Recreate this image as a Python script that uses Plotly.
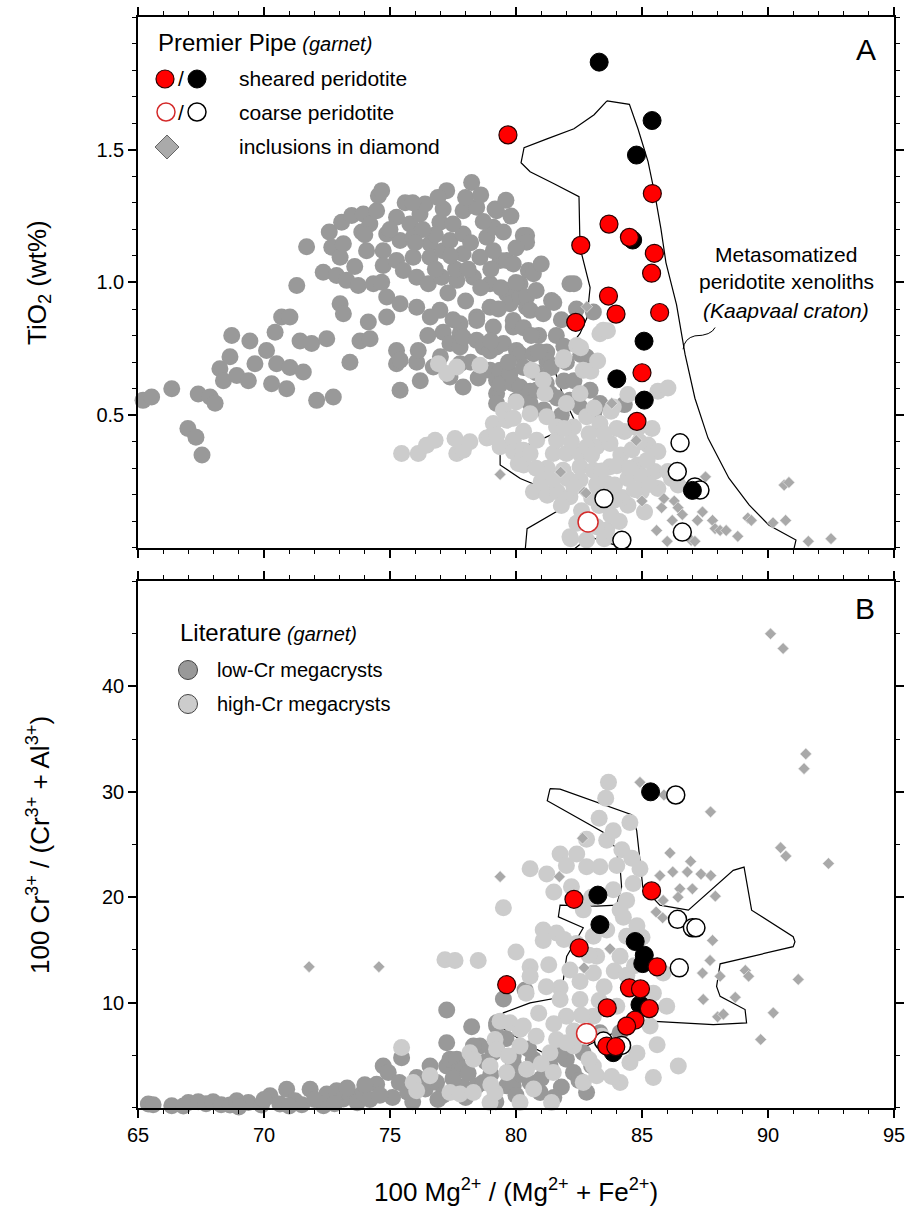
import plotly.graph_objects as go

FONT = "Liberation Sans, Arial, sans-serif"

# ---------------- Panel A: TiO2 vs Mg# ----------------
kaap_ti_x = [83.61, 84.50, 84.84, 85.24, 85.52, 85.75, 85.95, 86.37, 86.71, 87.10,
             87.62, 88.45, 89.25, 90.04, 91.11, 90.99, 84.92, 82.97, 82.57, 82.10,
             80.37, 80.44, 82.04, 81.77, 80.17, 79.37, 79.37, 80.70, 82.37, 81.90,
             81.50, 82.54, 82.82, 82.94, 82.54, 82.50, 81.51, 80.56, 80.20, 80.32,
             81.23, 82.30, 83.10, 83.61]
kaap_ti_y = [1.684, 1.671, 1.579, 1.455, 1.327, 1.203, 1.075, 0.917, 0.729, 0.564,
             0.414, 0.263, 0.162, 0.086, 0.030, -0.02, -0.02, 0.041, 0.016, -0.02,
             -0.003, 0.073, 0.161, 0.199, 0.262, 0.313, 0.363, 0.395, 0.471, 0.565,
             0.679, 0.808, 0.868, 0.981, 1.132, 1.323, 1.372, 1.417, 1.451, 1.508,
             1.541, 1.579, 1.632, 1.684]

lowcr_ti = [
    (65.2, 0.556), (65.54, 0.569), (66.34, 0.60), (66.98, 0.45), (67.3, 0.417), (67.54, 0.35),
    (67.39, 0.58), (67.86, 0.569), (68.06, 0.545), (68.25, 0.675), (68.39, 0.63), (68.65, 0.72),
    (68.72, 0.80), (68.92, 0.65), (69.38, 0.63), (69.44, 0.78), (69.64, 0.694), (70.1, 0.744),
    (70.3, 0.619), (70.44, 0.813), (70.5, 0.694), (70.7, 0.87), (70.9, 0.60), (71.03, 0.87),
    (71.03, 0.68), (71.3, 0.989), (71.43, 0.78), (71.56, 0.663), (71.69, 1.135), (71.89, 0.77),
    (72.09, 0.556), (72.35, 1.039), (72.49, 0.788), (72.59, 1.19), (72.69, 1.133), (72.75, 0.569),
    (72.88, 1.026), (73.02, 1.095), (73.02, 0.92), (73.08, 1.227), (73.15, 1.146), (73.15, 0.882),
    (73.28, 1.008), (73.41, 0.70), (73.48, 1.252), (73.74, 0.989), (73.81, 0.78), (73.88, 1.19),
    (73.94, 1.258), (74.07, 1.12), (74.14, 0.851), (74.2, 1.22), (74.21, 0.788), (74.34, 0.995),
    (74.47, 1.27), (74.54, 1.327), (74.67, 1.346), (74.67, 1.001), (74.73, 1.12), (74.73, 1.064),
    (74.87, 1.183), (74.87, 0.945), (74.87, 0.87), (75.26, 1.246), (75.26, 1.083), (75.26, 0.744),
    (75.26, 0.694), (75.4, 1.158), (75.4, 0.92), (75.4, 0.594), (75.4, 0.707), (75.53, 1.045),
    (75.79, 1.22), (75.92, 1.17), (75.92, 1.095), (76.06, 1.02), (76.06, 0.907), (76.06, 0.70),
    (76.12, 0.744), (76.19, 1.258), (76.39, 1.296), (76.52, 0.995), (76.59, 1.146), (76.59, 1.095),
    (76.72, 0.682), (76.98, 1.227), (76.98, 0.895), (77.05, 1.02), (77.11, 1.277), (77.11, 1.12),
    (77.11, 0.813), (77.25, 1.346), (77.38, 1.158), (77.38, 0.77), (77.38, 0.644), (77.65, 1.008),
    (77.78, 0.845), (77.78, 0.807), (77.78, 0.757), (77.78, 0.694), (77.9, 1.27), (77.9, 1.183),
    (77.9, 1.108), (77.9, 0.794), (77.9, 0.606), (78.24, 1.377), (78.31, 1.02), (78.44, 1.283),
    (78.44, 0.87), (78.44, 0.857), (78.44, 0.782), (78.57, 1.095), (78.7, 0.757), (78.84, 1.17),
    (78.97, 0.995), (78.97, 0.907), (78.97, 0.669), (78.97, 0.742), (79.1, 1.208), (79.1, 0.832),
    (79.17, 1.277), (79.23, 1.27), (79.23, 0.757), (79.23, 0.632), (79.23, 0.582), (79.23, 0.544),
    (79.37, 1.083), (79.37, 0.669), (79.37, 0.617), (79.5, 0.77), (79.63, 1.083), (79.63, 0.97),
    (79.63, 0.957), (79.76, 0.92), (79.76, 0.657), (79.89, 1.07), (79.89, 0.832), (79.89, 0.857),
    (79.89, 0.619), (80.02, 0.744), (80.02, 0.556), (80.16, 0.945), (80.16, 0.995), (80.16, 0.606),
    (80.17, 0.729), (80.29, 1.177), (80.42, 1.177), (80.42, 1.152), (80.42, 0.907), (80.42, 0.945),
    (80.42, 0.569), (80.49, 1.045), (80.56, 0.895), (80.56, 0.59), (80.56, 0.544), (80.69, 1.033),
    (80.69, 0.732), (80.82, 0.594), (81.08, 0.882), (81.22, 0.738), (81.23, 0.704), (81.35, 0.582),
    (81.41, 0.932), (81.5, 0.925), (81.63, 0.565), (81.9, 0.629), (82.14, 0.995), (82.14, 0.556),
    (82.3, 0.995), (82.54, 0.531), (82.57, 0.729), (82.8, 0.719), (82.94, 0.594), (83.07, 0.889),
    (83.07, 0.506), (83.1, 0.515), (83.33, 0.544), (84.3, 0.54),
    (76.8, 1.18), (77.5, 1.22), (78.0, 1.32), (78.7, 1.23), (79.5, 1.19), (79.8, 1.25),
    (80.0, 1.13), (79.0, 1.05), (78.2, 1.15), (77.6, 1.05), (76.3, 1.2), (75.6, 1.3),
    (74.0, 1.18), (73.6, 1.06), (80.8, 0.97), (81.0, 1.07), (80.3, 0.83), (80.9, 0.80),
    (81.6, 0.80), (81.4, 0.68), (82.0, 0.70), (80.8, 0.66), (81.8, 0.86), (82.4, 0.90),
    (81.1, 0.52), (81.8, 0.50), (82.3, 0.63), (78.0, 0.93), (77.3, 0.96), (76.6, 0.87),
    (79.3, 0.90), (80.3, 0.68), (80.9, 0.74),
    (76.0, 1.15), (76.8, 1.05), (77.4, 1.10), (78.1, 1.05), (78.6, 0.98), (79.4, 0.98),
    (79.0, 0.78), (78.2, 0.70), (77.5, 0.86), (76.5, 0.80), (78.5, 0.64), (79.7, 0.70),
    (80.6, 0.80), (81.2, 0.62), (81.9, 0.76), (80.0, 1.0), (79.1, 1.12), (77.0, 0.72),
    (76.2, 0.63), (75.0, 1.2), (75.9, 1.3), (76.9, 1.32), (78.6, 1.33), (79.6, 1.31),
]

highcr_ti = [
    (75.46, 0.356), (76.12, 0.356), (76.45, 0.387), (76.79, 0.406), (76.92, 0.694), (77.25, 0.657),
    (77.58, 0.412), (77.65, 0.682), (77.65, 0.356), (77.91, 0.368), (78.17, 0.40), (78.57, 0.688),
    (78.84, 0.414), (78.97, 0.418), (79.1, 0.469), (79.24, 0.426), (79.37, 0.381), (79.5, 0.519),
    (79.63, 0.481), (79.89, 0.406), (79.9, 0.489), (79.9, 0.363), (80.09, 0.318), (80.29, 0.368),
    (80.3, 0.313), (80.56, 0.356), (80.56, 0.506), (80.62, 0.669), (80.69, 0.212), (80.82, 0.406),
    (81.08, 0.632), (81.15, 0.582), (81.22, 0.494), (81.22, 0.206), (81.24, 0.30), (81.24, 0.199),
    (81.48, 0.356), (81.61, 0.456), (81.61, 0.406), (81.64, 0.212), (81.87, 0.707), (81.87, 0.293),
    (81.9, 0.717), (82.0, 0.544), (82.0, 0.356), (82.04, 0.262), (82.14, 0.193), (82.14, 0.042),
    (82.17, 0.035), (82.28, 0.456), (82.41, 0.763), (82.41, 0.093), (82.54, 0.582), (82.54, 0.356),
    (82.54, 0.306), (82.54, 0.256), (82.57, 0.754), (82.67, 0.669), (82.8, 0.494), (82.8, 0.03),
    (82.97, 0.666), (83.07, 0.293), (83.1, 0.527), (83.2, 0.381), (83.24, 0.704), (83.33, 0.807),
    (83.33, 0.469), (83.46, 0.82), (83.5, 0.035), (83.6, 0.243), (83.6, 0.068), (83.63, 0.818),
    (83.73, 0.394), (83.73, 0.306), (83.77, 0.515), (83.77, 0.123), (83.86, 0.531), (83.91, 0.237),
    (84.16, 0.35), (84.3, 0.439), (84.44, 0.578), (84.44, 0.262), (84.44, 0.161), (84.83, 0.451),
    (84.83, 0.313), (84.97, 0.212), (85.1, 0.136), (85.24, 0.388), (85.5, 0.288), (85.63, 0.59),
    (85.63, 0.363), (85.63, 0.224), (86.03, 0.603), (86.03, 0.288), (86.17, 0.262), (86.43, 0.237),
    (82.9, 0.43), (83.4, 0.29), (84.0, 0.45), (84.6, 0.37), (85.0, 0.27), (84.2, 0.19),
    (83.0, 0.19), (82.6, 0.14), (81.0, 0.25), (80.3, 0.44), (81.8, 0.16), (82.8, 0.38),
    (84.0, 0.31), (83.3, 0.16), (85.4, 0.45), (80.0, 0.55),
    (82.2, 0.40), (83.0, 0.35), (83.5, 0.43), (84.5, 0.30), (85.2, 0.33), (84.7, 0.22),
    (83.9, 0.18), (83.2, 0.24), (82.3, 0.23), (81.5, 0.26), (80.8, 0.30), (81.9, 0.45),
    (84.9, 0.40), (85.3, 0.24), (84.1, 0.10), (83.2, 0.08),
]

diam_ti = [
    (79.37, 0.277), (81.77, 0.286), (82.7, 0.21), (82.78, 0.207), (82.81, 0.909), (83.8, 0.545),
    (84.77, 0.405), (85.0, 0.177), (85.58, 0.066), (85.78, 0.152), (85.87, 0.186), (86.0, 0.025),
    (86.2, 0.104), (86.28, 0.177), (86.43, 0.152), (86.6, 0.126), (86.95, 0.029), (87.1, 0.025),
    (87.2, 0.104), (87.4, 0.136), (87.52, 0.268), (87.8, 0.104), (87.9, 0.073), (88.1, 0.066),
    (88.34, 0.066), (88.8, 0.044), (89.2, 0.113), (89.34, 0.104), (90.2, 0.095), (90.64, 0.237),
    (90.7, 0.104), (90.83, 0.247), (91.6, 0.025), (92.5, 0.035),
]

sheared_red_ti = [
    (79.68, 1.556), (85.41, 1.335), (83.69, 1.22), (84.5, 1.17), (82.57, 1.14), (85.49, 1.11),
    (85.38, 1.035), (83.67, 0.949), (83.97, 0.881), (85.7, 0.887), (82.37, 0.85), (85.0, 0.66),
    (84.8, 0.477),
]
sheared_black_ti = [
    (83.3, 1.83), (85.4, 1.61), (84.78, 1.48), (84.63, 1.16), (85.08, 0.779), (84.0, 0.637),
    (85.09, 0.557), (87.0, 0.217),
]
coarse_red_ti = [(82.86, 0.098)]
coarse_black_ti = [
    (86.51, 0.396), (86.4, 0.288), (87.1, 0.23), (87.3, 0.218), (83.49, 0.186), (86.6, 0.06),
    (84.2, 0.029),
]

# ---------------- Panel B: Cr# vs Mg# ----------------
kaap_cr_x = [81.35, 81.75, 84.59, 84.79, 84.92, 85.03, 85.71, 86.84, 88.62, 89.05,
             89.35, 91.0, 91.07, 91.0, 88.10, 87.96, 88.10, 89.09, 89.15, 87.83,
             85.32, 83.73, 82.54, 81.35, 80.56, 79.56, 79.29, 79.50, 80.56, 81.61,
             81.88, 82.01, 82.67, 81.68, 81.75, 83.20, 83.99, 84.19, 84.13, 83.93,
             83.46, 81.24, 81.35]
kaap_cr_y = [30.31, 30.25, 27.83, 26.32, 23.49, 20.97, 19.25, 18.77, 22.55, 22.86,
             18.77, 16.25, 15.78, 15.31, 13.68, 11.54, 10.59, 9.34, 8.08, 7.92,
             8.24, 6.98, 5.57, 4.93, 5.88, 7.45, 8.21, 9.03, 9.97, 10.44,
             12.17, 14.37, 17.10, 18.14, 19.25, 19.15, 19.25, 20.97, 22.86, 24.75,
             26.16, 29.15, 30.31]

lowcr_cr = [
    (65.41, 0.38), (65.6, 0.3), (66.34, 0.22), (67.0, 0.53), (67.39, 0.6), (67.7, 0.4),
    (67.98, 0.6), (68.3, 0.3), (68.65, 0.28), (68.92, 0.69), (69.38, 0.53), (69.9, 0.28),
    (70.24, 1.16), (70.63, 0.38), (70.9, 1.79), (71.23, 0.69), (71.5, 0.3), (71.83, 1.79),
    (72.36, 0.22), (72.49, 1.32), (72.88, 1.63), (73.15, 0.85), (73.41, 1.23), (73.7, 0.5),
    (73.94, 1.48), (74.2, 0.8), (74.47, 2.26), (74.73, 3.99), (74.93, 3.36), (75.37, 2.42),
    (75.46, 4.78), (75.7, 1.5), (76.06, 2.9), (76.4, 1.8), (76.59, 3.99), (76.85, 2.42),
    (77.1, 1.2), (77.25, 6.2), (77.25, 9.3), (77.25, 3.99), (77.38, 4.62), (77.65, 4.62),
    (77.78, 3.68), (77.9, 3.68), (77.9, 2.0), (78.24, 7.7), (78.44, 2.1), (78.57, 5.88),
    (78.7, 2.42), (78.31, 5.88), (79.1, 5.25), (79.23, 8.08), (79.23, 7.77), (79.23, 5.88),
    (79.5, 10.35), (79.63, 2.1), (79.89, 4.93), (79.89, 4.31), (79.89, 2.1), (80.36, 11.2),
    (80.56, 2.42), (80.69, 4.62), (80.96, 1.48), (81.35, 3.99), (82.0, 4.62), (82.28, 3.37),
    (82.67, 5.25), (83.33, 7.15), (84.13, 7.15),
    (78.0, 1.0), (79.0, 3.2), (80.2, 3.2), (81.0, 2.8), (81.8, 2.0), (82.5, 2.6),
    (76.3, 2.3), (75.1, 1.0), (74.0, 2.2), (78.8, 4.4), (80.5, 5.6), (81.7, 5.1),
    (79.6, 6.6), (83.0, 4.0), (82.8, 1.5), (76.9, 0.8), (79.2, 0.6), (80.0, 1.2),
    (66.8, 0.2), (69.0, 0.1), (70.0, 0.8), (71.0, 0.2), (72.0, 0.8), (72.8, 0.4),
    (73.3, 1.9), (74.6, 1.2), (75.9, 0.6), (77.5, 2.8), (78.1, 3.3), (81.5, 1.0),
]

highcr_cr = [
    (75.46, 5.73), (75.92, 2.42), (76.06, 1.63), (76.59, 3.05), (77.18, 14.06), (77.38, 1.48),
    (77.58, 14.0), (77.78, 1.32), (78.17, 5.25), (78.31, 4.62), (78.31, 1.48), (78.5, 14.0),
    (78.97, 3.99), (78.97, 0.53), (79.17, 6.5), (79.17, 1.48), (79.23, 5.57), (79.37, 8.24),
    (79.5, 19.0), (79.63, 3.37), (79.7, 4.93), (79.76, 8.08), (80.16, 7.45), (80.16, 5.88),
    (80.16, 0.53), (80.29, 7.77), (80.42, 3.68), (80.56, 22.7), (80.56, 13.4), (80.56, 12.5),
    (81.08, 16.9), (81.08, 15.9), (81.22, 22.2), (81.35, 5.25), (81.41, 0.53), (81.48, 3.37),
    (81.61, 16.6), (81.61, 6.5), (81.75, 24.1), (81.75, 11.4), (81.75, 10.3), (82.0, 23.0),
    (82.0, 8.7), (82.14, 13.1), (82.28, 5.88), (82.41, 24.1), (82.54, 12.0), (82.54, 10.3),
    (82.67, 18.8), (82.67, 2.42), (82.8, 25.5), (82.8, 22.9), (83.07, 16.3), (83.07, 12.8),
    (83.07, 8.7), (83.07, 3.99), (83.2, 14.4), (83.2, 3.05), (83.33, 22.9), (83.6, 25.4),
    (83.6, 16.9), (83.86, 26.3), (83.86, 20.7), (84.0, 23.0), (84.0, 9.65), (84.13, 18.8),
    (84.13, 14.4), (84.13, 2.42), (84.26, 18.1), (84.39, 19.7), (84.39, 16.3), (84.52, 27.1),
    (84.52, 4.31), (84.65, 21.3), (84.92, 22.7), (85.32, 7.77), (85.45, 10.9), (85.45, 2.9),
    (85.84, 12.8), (85.98, 9.65), (86.44, 3.99),
    (83.67, 30.9), (83.56, 29.4), (83.3, 27.5), (84.2, 24.5), (83.0, 20.0), (82.2, 21.0),
    (84.6, 23.7), (81.5, 20.5), (82.9, 14.5), (81.3, 13.6), (83.5, 11.5), (82.3, 7.3),
    (83.4, 6.8), (80.9, 9.0), (81.2, 11.5), (82.4, 15.6), (83.9, 13.0), (84.8, 17.3),
    (80.8, 6.8), (81.0, 4.2), (82.0, 6.2), (82.6, 8.8), (83.3, 10.2), (84.4, 12.6),
    (85.0, 16.2), (84.7, 13.5), (81.9, 16.0), (80.4, 10.9), (80.0, 14.8), (81.5, 8.0),
    (82.9, 4.6), (84.8, 5.2), (85.6, 6.0), (83.8, 3.0), (80.7, 1.8), (79.0, 2.2),
]

diam_cr = [
    (90.1, 45.0), (90.6, 43.6), (91.5, 33.6), (91.43, 32.2), (84.92, 30.9), (87.72, 28.1),
    (85.87, 29.7), (82.64, 25.6), (86.11, 24.2), (86.93, 23.4), (90.5, 24.7), (90.71, 23.9),
    (92.4, 23.2), (79.37, 21.95), (81.72, 21.95), (85.71, 22.05), (86.22, 22.4), (86.8, 22.4),
    (87.34, 22.2), (87.73, 22.05), (86.5, 20.8), (87.0, 20.8), (86.43, 20.0), (87.91, 20.1),
    (85.84, 19.7), (85.56, 18.6), (85.82, 18.05), (87.8, 15.9), (87.7, 14.0), (87.4, 12.8),
    (88.1, 12.5), (89.1, 13.05), (89.23, 12.5), (91.2, 12.2), (87.43, 10.3), (88.7, 10.5),
    (88.0, 8.65), (88.23, 8.9), (90.21, 9.03), (89.71, 6.5), (83.73, 15.1), (82.7, 13.3),
    (71.79, 13.4), (74.56, 13.4),
]

sheared_red_cr = [
    (82.3, 19.8), (85.38, 20.6), (82.51, 15.2), (85.6, 13.4), (79.63, 11.7), (84.5, 11.4),
    (84.94, 11.3), (83.62, 9.5), (85.29, 9.43), (84.72, 8.33), (84.39, 7.77), (83.6, 5.88),
    (83.96, 5.82),
]
sheared_black_cr = [
    (85.34, 30.0), (83.25, 20.2), (83.33, 17.4), (84.73, 15.8), (85.09, 14.5), (85.03, 13.7),
    (84.92, 9.8), (83.86, 5.25),
]
coarse_red_cr = [(82.8, 7.07)]
coarse_black_cr = [
    (86.34, 29.7), (86.41, 17.9), (87.0, 17.1), (87.14, 17.1), (86.48, 13.3), (83.47, 6.35),
    (84.19, 5.94),
]

x_ticks = [65, 70, 75, 80, 85, 90, 95]
ti_ticks = [0.5, 1.0, 1.5]
ti_tick_text = ["0.5", "1.0", "1.5"]
cr_ticks = [10, 20, 30, 40]

DARK = "#999999"
LIGHT = "#cccccc"
DIAM = "#a9a9a9"
RED = "#ff0000"

fig = go.Figure()


def xs(pts):
    return [p[0] for p in pts]


def ys(pts):
    return [p[1] for p in pts]


def add_panel(xa, ya, poly_x, poly_y, low, high, diam, cb, cr_, sb, sr):
    fig.add_trace(go.Scatter(x=poly_x, y=poly_y, mode="lines", xaxis=xa, yaxis=ya,
                             line=dict(color="black", width=1.2), hoverinfo="skip"))
    fig.add_trace(go.Scatter(x=xs(low), y=ys(low), mode="markers", xaxis=xa, yaxis=ya,
                             cliponaxis=False,
                             marker=dict(size=17, color=DARK, line=dict(width=0))))
    fig.add_trace(go.Scatter(x=xs(high), y=ys(high), mode="markers", xaxis=xa, yaxis=ya,
                             cliponaxis=False,
                             marker=dict(size=17, color=LIGHT, line=dict(width=0))))
    fig.add_trace(go.Scatter(x=xs(diam), y=ys(diam), mode="markers", xaxis=xa, yaxis=ya,
                             cliponaxis=False,
                             marker=dict(symbol="diamond", size=9, color=DIAM,
                                         line=dict(width=0.6, color="#eeeeee"))))
    fig.add_trace(go.Scatter(x=xs(cb), y=ys(cb), mode="markers", xaxis=xa, yaxis=ya,
                             cliponaxis=False,
                             marker=dict(size=18, color="white", line=dict(width=1.5, color="black"))))
    fig.add_trace(go.Scatter(x=xs(cr_), y=ys(cr_), mode="markers", xaxis=xa, yaxis=ya,
                             cliponaxis=False,
                             marker=dict(size=20, color="white", line=dict(width=1.5, color="#d42a2a"))))
    fig.add_trace(go.Scatter(x=xs(sb), y=ys(sb), mode="markers", xaxis=xa, yaxis=ya,
                             cliponaxis=False,
                             marker=dict(size=18, color="black", line=dict(width=1, color="black"))))
    fig.add_trace(go.Scatter(x=xs(sr), y=ys(sr), mode="markers", xaxis=xa, yaxis=ya,
                             cliponaxis=False,
                             marker=dict(size=18, color=RED, line=dict(width=1.2, color="#2a0000"))))


add_panel("x", "y", kaap_ti_x, kaap_ti_y, lowcr_ti, highcr_ti, diam_ti,
          coarse_black_ti, coarse_red_ti, sheared_black_ti, sheared_red_ti)
add_panel("x2", "y2", kaap_cr_x, kaap_cr_y, lowcr_cr, highcr_cr, diam_cr,
          coarse_black_cr, coarse_red_cr, sheared_black_cr, sheared_red_cr)

axis_common = dict(showline=True, linecolor="black", linewidth=1.5, mirror="allticks",
                   ticks="outside", ticklen=8, tickwidth=1.5, tickcolor="black",
                   showgrid=False, zeroline=False, automargin=False,
                   tickfont=dict(family=FONT, size=20, color="black"))

fig.update_layout(
    width=909, height=1211,
    margin=dict(l=138, r=15, t=17, b=103, autoexpand=False),
    paper_bgcolor="white", plot_bgcolor="white",
    showlegend=False, hovermode=False,
    font=dict(family=FONT, color="black"),
    xaxis=dict(axis_common, range=[65, 95], tickvals=x_ticks, showticklabels=False,
               domain=[0, 1], anchor="y",
               minor=dict(dtick=1, tick0=65, ticks="outside", ticklen=4, tickwidth=1.2,
                          tickcolor="black", showgrid=False)),
    yaxis=dict(axis_common, range=[0, 2], tickvals=ti_ticks, ticktext=ti_tick_text,
               domain=[0.5133, 1], anchor="x",
               minor=dict(dtick=0.1, tick0=0, ticks="outside", ticklen=4, tickwidth=1.2,
                          tickcolor="black", showgrid=False)),
    xaxis2=dict(axis_common, range=[65, 95], tickvals=x_ticks, domain=[0, 1], anchor="y2",
                minor=dict(dtick=1, tick0=65, ticks="outside", ticklen=4, tickwidth=1.2,
                           tickcolor="black", showgrid=False)),
    yaxis2=dict(axis_common, range=[0, 50], tickvals=cr_ticks, domain=[0, 0.483], anchor="x2",
                minor=dict(dtick=5, tick0=0, ticks="outside", ticklen=4, tickwidth=1.2,
                           tickcolor="black", showgrid=False)),
)


def xp(px):
    return (px - 138) / 756.0


def yp(py):
    return (1108 - py) / 1091.0


ann = []


def text(px, py, s, size, xanchor="left", angle=0, yanchor="middle"):
    ann.append(dict(x=xp(px), y=yp(py), xref="paper", yref="paper", text=s, showarrow=False,
                    xanchor=xanchor, yanchor=yanchor, textangle=angle,
                    font=dict(family=FONT, size=size, color="black")))


# axis titles
text(38, 283, "TiO<sub>2</sub> (wt%)", 26, xanchor="center", angle=-90)
text(38, 845, "100 Cr<sup>3+</sup> / (Cr<sup>3+</sup> + Al<sup>3+</sup>)", 26, xanchor="center", angle=-90)
text(516, 1190, "100 Mg<sup>2+</sup> / (Mg<sup>2+</sup> + Fe<sup>2+</sup>)", 26, xanchor="center")

# panel letters
text(866, 50, "A", 30, xanchor="center")
text(865, 608, "B", 30, xanchor="center")

# legend A
text(156, 42, '<span style="font-size:24px">Premier Pipe</span> <i>(garnet)</i>', 20)
text(181, 79, "/", 21, xanchor="center")
text(181, 112, "/", 21, xanchor="center")
text(237, 79, "sheared peridotite", 21)
text(237, 112, "coarse peridotite", 21)
text(237, 147, "inclusions in diamond", 21)

# legend B
text(178, 633, '<span style="font-size:24px">Literature</span> <i>(garnet)</i>', 20)
text(215, 670, "low-Cr megacrysts", 20)
text(215, 704, "high-Cr megacrysts", 20)

# xenolith field label
text(786, 255, "Metasomatized", 21, xanchor="center")
text(786, 282, "peridotite xenoliths", 21, xanchor="center")
text(786, 310, "<i>(Kaapvaal craton)</i>", 21, xanchor="center")

fig.update_layout(annotations=ann)

shapes = []


def circle(px, py, d, fill, line_color, lw):
    shapes.append(dict(type="circle", xref="paper", yref="paper", xsizemode="pixel",
                       ysizemode="pixel", xanchor=xp(px), yanchor=yp(py),
                       x0=-d / 2, x1=d / 2, y0=-d / 2, y1=d / 2,
                       fillcolor=fill, line=dict(color=line_color, width=lw)))


circle(165, 79, 18, RED, "#2a0000", 1.2)
circle(197, 79, 18, "black", "black", 1)
circle(166, 112, 18, "white", "#d42a2a", 1.5)
circle(197, 112, 18, "white", "black", 1.5)
shapes.append(dict(type="path", xref="paper", yref="paper", xsizemode="pixel", ysizemode="pixel",
                   xanchor=xp(167), yanchor=yp(147), path="M -12,0 L 0,12 L 12,0 L 0,-12 Z",
                   fillcolor="#aaaaaa", line=dict(color="#666666", width=1)))
circle(188, 670, 19, DARK, "#444444", 1)
circle(188, 704, 19, LIGHT, "#444444", 1)

# leader line for the xenolith field label
shapes.append(dict(type="path", xref="x", yref="y",
                   path="M 87.90,0.8305 Q 87.75,0.800 87.10,0.799 Q 86.68,0.790 86.63,0.7485",
                   line=dict(color="black", width=1)))

fig.update_layout(shapes=shapes)

fig.write_html("out.html")
